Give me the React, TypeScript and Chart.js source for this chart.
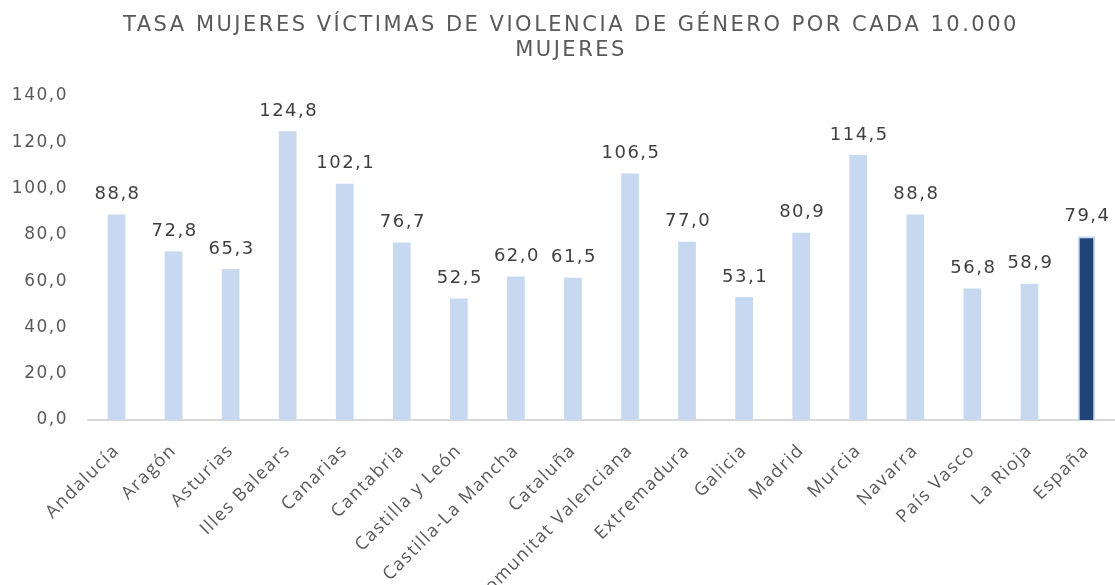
import React, { useEffect, useRef } from "react";
import { Chart, registerables } from "chart.js";

Chart.register(...registerables);

const categories = [
  "Andalucía", "Aragón", "Asturias", "Illes Balears", "Canarias", "Cantabria",
  "Castilla y León", "Castilla-La Mancha", "Cataluña", "Comunitat Valenciana",
  "Extremadura", "Galicia", "Madrid", "Murcia", "Navarra", "País Vasco",
  "La Rioja", "España",
];
const values = [88.8, 72.8, 65.3, 124.8, 102.1, 76.7, 52.5, 62.0, 61.5, 106.5, 77.0, 53.1, 80.9, 114.5, 88.8, 56.8, 58.9, 79.4];
const titleLines = ["TASA MUJERES VÍCTIMAS DE VIOLENCIA DE GÉNERO POR CADA 10.000", "MUJERES"];
const lightColor = "#C6D9F1";
const darkColor = "#1F4478";

const fmt = (v: number) => v.toFixed(1).replace(".", ",");

const spacingPlugin = {
  id: "spacing",
  beforeLayout(chart: any) {
    chart.ctx.letterSpacing = "1.5px";
  },
  beforeDraw(chart: any) {
    chart.ctx.letterSpacing = "1.5px";
  },
};

const labelPlugin = {
  id: "barLabels",
  afterDatasetsDraw(chart: any) {
    const ctx = chart.ctx;
    const meta = chart.getDatasetMeta(0);
    ctx.save();
    ctx.letterSpacing = "1.5px";
    ctx.font = "18px 'DejaVu Sans'";
    ctx.fillStyle = "#404040";
    ctx.textAlign = "center";
    ctx.textBaseline = "bottom";
    meta.data.forEach((el: any, i: number) => {
      ctx.fillText(fmt(values[i]), el.x + 1, el.y - 11);
    });
    ctx.restore();

    ctx.save();
    ctx.letterSpacing = "2.5px";
    ctx.font = "21px 'DejaVu Sans'";
    ctx.fillStyle = "#595959";
    ctx.textAlign = "center";
    ctx.textBaseline = "middle";
    titleLines.forEach((t, i) => ctx.fillText(t, 571, 26 + i * 25));
    ctx.restore();
  },
};

export default function App() {
  const ref = useRef<HTMLCanvasElement>(null);
  useEffect(() => {
    document.body.style.margin = "0";
    const chart = new Chart(ref.current!, {
      type: "bar",
      data: {
        labels: categories,
        datasets: [
          {
            data: values,
            backgroundColor: categories.map((_, i) => (i === categories.length - 1 ? darkColor : lightColor)),
            borderColor: lightColor,
            borderWidth: categories.map((_, i) => (i === categories.length - 1 ? 2 : 0)),
            barPercentage: 0.62,
            categoryPercentage: 0.5,
          },
        ],
      },
      options: {
        animation: false,
        responsive: false,
        maintainAspectRatio: false,
        layout: { padding: { left: 0, right: 0, top: 96, bottom: 0 } },
        plugins: {
          legend: { display: false },
          tooltip: { enabled: false },
          title: { display: false },
        },
        scales: {
          x: {
            grid: { display: false },
            border: { color: "#D9D9D9", width: 2 },
            ticks: {
              color: "#595959",
              font: { family: "'Open Sans'", size: 18 },
              maxRotation: 45,
              minRotation: 45,
              autoSkip: false,
              padding: 12,
            },
            afterFit: (s: any) => {
              s.height = 165;
            },
          },
          y: {
            min: 0,
            max: 140,
            grid: { display: false },
            border: { display: false },
            ticks: {
              stepSize: 20,
              color: "#595959",
              font: { family: "'DejaVu Sans'", size: 17 },
              padding: 12,
              callback: (v: any) => fmt(Number(v)),
            },
            afterFit: (s: any) => {
              s.width = 88;
            },
          },
        },
      },
      plugins: [spacingPlugin, labelPlugin],
    });
    return () => chart.destroy();
  }, []);
  return (
    <div style={{ width: 1115, height: 585 }}>
      <canvas ref={ref} width={1115} height={585} />
    </div>
  );
}
